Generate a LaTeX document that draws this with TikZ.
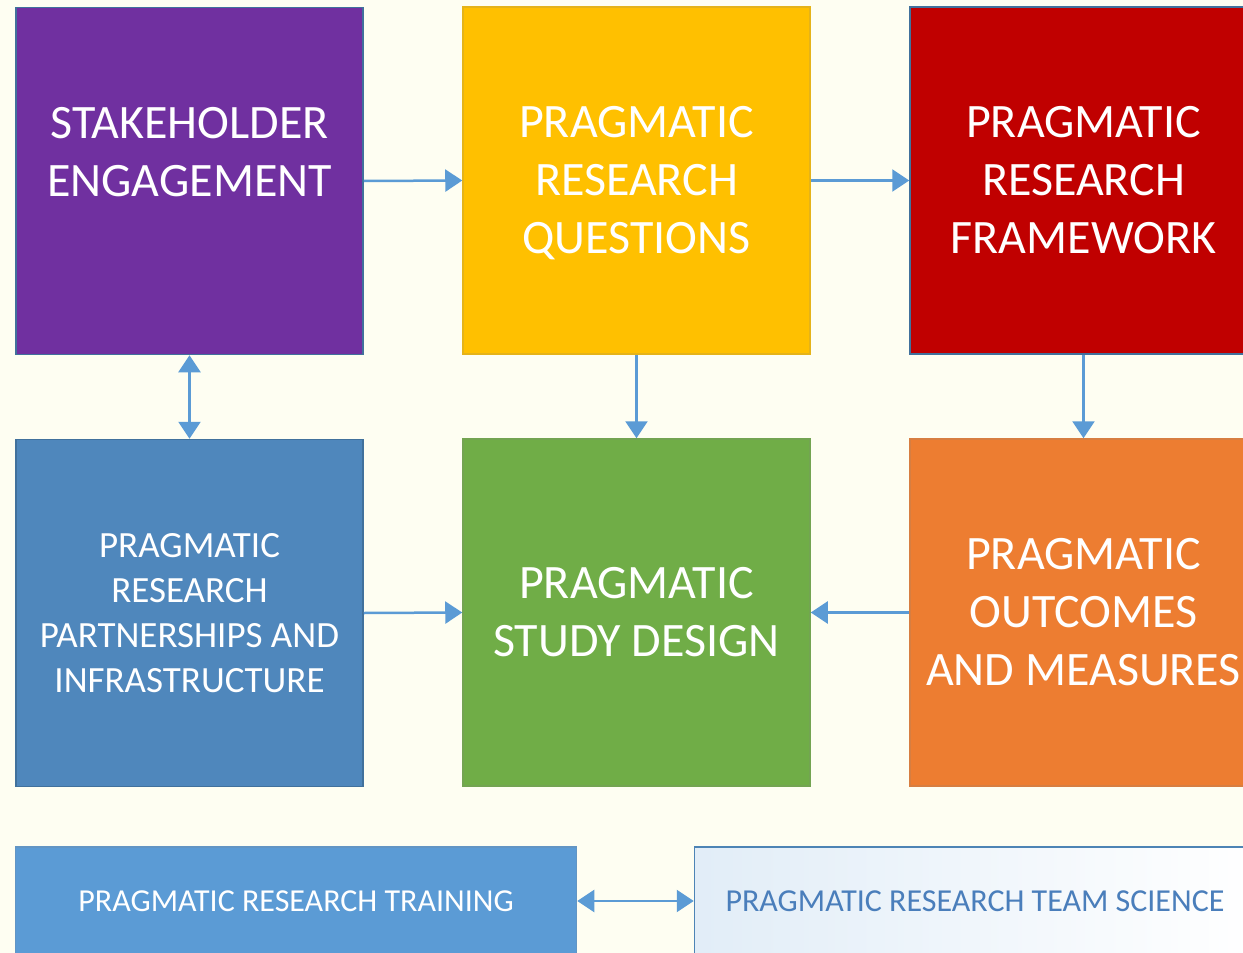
\documentclass[tikz,border=0pt]{standalone}
\usepackage{fontspec}
\setmainfont{Carlito}
\usetikzlibrary{arrows.meta}

\definecolor{bgcream}{HTML}{FEFEF2}
\definecolor{boxpurple}{HTML}{7030A0}
\definecolor{boxyellow}{HTML}{FFC000}
\definecolor{boxred}{HTML}{C00000}
\definecolor{boxblue}{HTML}{4F87BC}
\definecolor{boxgreen}{HTML}{70AD47}
\definecolor{boxorange}{HTML}{ED7D31}
\definecolor{boxsky}{HTML}{5B9BD5}
\definecolor{arrowblue}{HTML}{5B9BD5}
\definecolor{edgeblue}{HTML}{41719C}
\definecolor{textblue}{HTML}{4A7EBB}

\begin{document}
\begin{tikzpicture}[x=1pt, y=-1pt,
  bigbox/.style = {draw=edgeblue, line width=1.5pt, minimum width=347pt, minimum height=347pt, text=white, align=center, inner sep=0pt},
  bigfont/.style = {font=\fontsize{48}{58}\selectfont},
  midfont/.style = {font=\fontsize{37}{45}\selectfont},
  lowbox/.style = {line width=1.5pt, minimum width=561pt, minimum height=108pt, inner sep=0pt, font=\fontsize{32}{36}\selectfont},
  link/.style = {arrowblue, line width=2.5pt, -{Triangle[length=17pt,width=22pt]}},
  dlink/.style = {arrowblue, line width=2.5pt, {Triangle[length=17pt,width=22pt]}-{Triangle[length=17pt,width=22pt]}}]

% Background
\fill[bgcream] (0,0) rectangle (1243,953);
\useasboundingbox (0,0) rectangle (1243,953);

% Top row
\node[bigbox, bigfont, fill=boxpurple] (stake) at (189.5,181) {STAKEHOLDER\\ENGAGEMENT\\\phantom{E}};
\node[bigbox, bigfont, fill=boxyellow, draw=boxyellow!80!gray] (quest) at (636.5,180.5) {PRAGMATIC\\RESEARCH\\\smash{Q}UESTIONS};
\node[bigbox, bigfont, fill=boxred] (frame) at (1083.5,180.5) {PRAGMATIC\\RESEARCH\\FRAMEWORK};

% Middle row
\node[bigbox, midfont, fill=boxblue] (infra) at (189.5,613) {PRAGMATIC\\RESEARCH\\PARTNERSHIPS AND\\INFRASTRUCTURE};
\node[bigbox, bigfont, fill=boxgreen, draw=boxgreen!80!gray] (design) at (636.5,612.5) {PRAGMATIC\\STUDY DESIGN};
\node[bigbox, bigfont, fill=boxorange, draw=boxorange!80!gray] (outcome) at (1083.5,612.5) {PRAGMATIC\\OUTCOMES\\AND MEASURES};

% Bottom row
\node[lowbox, fill=boxsky, draw=boxsky!80!gray, text=white] (train) at (296,901) {PRAGMATIC RESEARCH TRAINING};
\node[lowbox, left color=boxsky!18, right color=white, draw=boxsky!85!black, text=textblue] (team) at (975,901) {PRAGMATIC RESEARCH TEAM SCIENCE};

% Arrows
\draw[link] (stake.east) -- (quest.west);
\draw[link] (quest.east) -- (frame.west);
\draw[link] (quest.south) -- (design.north);
\draw[link] (frame.south) -- (outcome.north);
\draw[link] (infra.east) -- (design.west);
\draw[link] (outcome.west) -- (design.east);
\draw[dlink] (stake.south) -- (infra.north);
\draw[dlink] (train.east) -- (team.west);

\end{tikzpicture}
\end{document}
